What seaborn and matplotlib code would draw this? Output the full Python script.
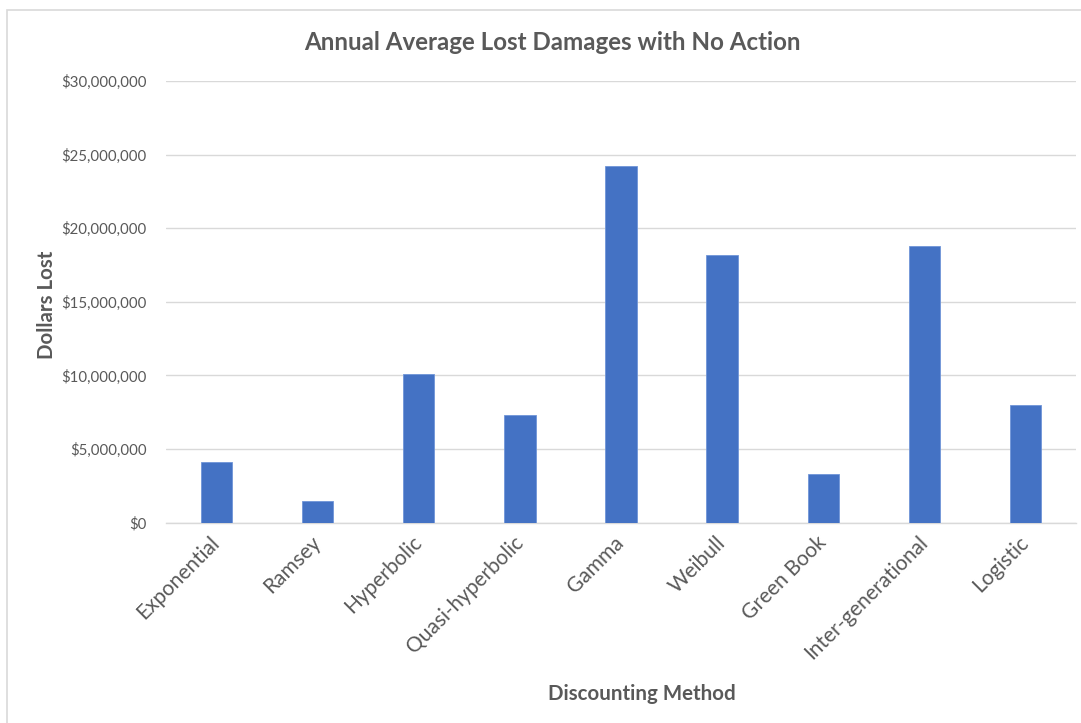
import matplotlib
matplotlib.use("Agg")
import matplotlib.pyplot as plt
import matplotlib.ticker as mticker
import matplotlib.transforms as mtransforms
from matplotlib.patches import Rectangle
import seaborn as sns
import pandas as pd

categories = ["Exponential", "Ramsey", "Hyperbolic", "Quasi-hyperbolic", "Gamma",
              "Weibull", "Green Book", "Inter-generational", "Logistic"]
values = [4130000, 1480000, 10100000, 7330000, 24200000,
          18200000, 3310000, 18800000, 8000000]
y_ticks = [0, 5000000, 10000000, 15000000, 20000000, 25000000, 30000000]

df = pd.DataFrame({"Method": categories, "Lost": values})

sns.set_theme(style="white")
plt.rcParams['font.family'] = ['Lato', 'DejaVu Sans']

W, H = 1081, 723
fig = plt.figure(figsize=(W / 100, H / 100), dpi=100)
ax = fig.add_axes([166 / W, (H - 522.7) / H, (1076 - 166) / W, (522.7 - 81) / H])

sns.barplot(data=df, x="Method", y="Lost", ax=ax, color="#4472C4",
            width=0.31, saturation=1, edgecolor="#6f95d8", linewidth=0.6, zorder=3)

ax.set_ylim(0, 30000000)
ax.set_xlim(-0.5, len(categories) - 0.5)
ax.set_yticks(y_ticks)
ax.yaxis.set_major_formatter(mticker.FuncFormatter(lambda v, p: "${:,.0f}".format(v)))
ax.grid(axis="y", color="#D9D9D9", linewidth=1.0, zorder=0)
ax.set_axisbelow(True)
for s in ["top", "right", "left"]:
    ax.spines[s].set_visible(False)
ax.spines["bottom"].set_color("#D9D9D9")
ax.spines["bottom"].set_linewidth(1.0)
ax.tick_params(axis="both", length=0, colors="#595959", labelsize=10.8)
ax.tick_params(axis="y", pad=14)
ax.tick_params(axis="x", pad=7)
shift = mtransforms.ScaledTranslation(-0.07, 0, fig.dpi_scale_trans)
for lab in ax.get_xticklabels():
    lab.set_rotation(45)
    lab.set_ha("right")
    lab.set_rotation_mode("anchor")
    lab.set_fontsize(15)
    lab.set_transform(lab.get_transform() + shift)

ax.set_xlabel("")
ax.set_ylabel("")
fig.text(47 / W, 1 - 305 / H, "Dollars Lost", rotation=90, ha="center", va="center",
         fontsize=14.8, fontweight="bold", color="#595959")
fig.text(642 / W, 1 - 694 / H, "Discounting Method", ha="center", va="center",
         fontsize=14.8, fontweight="bold", color="#595959")
fig.text(552 / W, 1 - 43 / H, "Annual Average Lost Damages with No Action", ha="center",
         va="center", fontsize=17.4, fontweight="bold", color="#595959")

fig.patches.append(Rectangle((7.5 / W, -0.1), 1.2, (H - 10.5) / H + 0.1,
                             transform=fig.transFigure, fill=False,
                             edgecolor="#D9D9D9", linewidth=1.2))

fig.savefig("out.png", dpi=100, facecolor="white")
